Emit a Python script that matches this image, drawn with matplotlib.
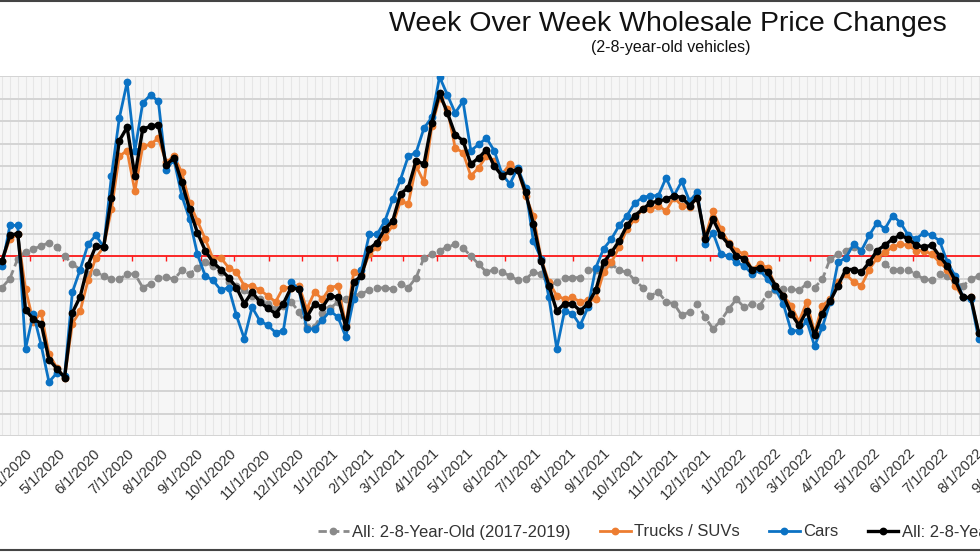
import numpy as np
import pandas as pd
import matplotlib
matplotlib.use("Agg")
import matplotlib.pyplot as plt
import matplotlib.dates as mdates
from matplotlib.lines import Line2D

plt.rcParams['font.family'] = ['Liberation Sans', 'DejaVu Sans']

# weekly dates (126 weeks)
weeks = pd.date_range('2020-03-07', periods=126, freq='7D')
months = pd.date_range('2020-03-01', '2022-09-01', freq='MS')
month_labels = [f"{d.month}/{d.day}/{d.year}" for d in months]

# week over week change, %
avg_2017_2019 = [
    -0.35, -0.25, -0.03, 0.05, 0.08, 0.11, 0.15, 0.10, 0.00, -0.09, -0.15, -0.20, -0.18, -0.22, -0.26, -0.26, -0.20, -0.20, -0.35, -0.31, -0.24, -0.23,
    -0.26, -0.16, -0.20, -0.13, -0.07, -0.11, -0.18, -0.29, -0.33, -0.38, -0.44, -0.48, -0.53, -0.59, -0.55, -0.51, -0.62, -0.79, -0.79, -0.63,
    -0.58, -0.51, -0.48, -0.44, -0.42, -0.38, -0.36, -0.35, -0.37, -0.31, -0.35, -0.24, -0.02, 0.02, 0.06, 0.10, 0.13, 0.09, 0.00, -0.09, -0.18,
    -0.15, -0.18, -0.22, -0.27, -0.26, -0.18, -0.20, -0.33, -0.29, -0.24, -0.24, -0.24, -0.16, -0.15, -0.11, -0.09, -0.16, -0.18, -0.27, -0.35,
    -0.44, -0.40, -0.51, -0.53, -0.66, -0.62, -0.53, -0.68, -0.81, -0.72, -0.59, -0.48, -0.57, -0.53, -0.55, -0.42, -0.38, -0.37, -0.37, -0.38, -0.31,
    -0.35, -0.26, -0.03, 0.02, 0.06, 0.10, 0.06, 0.10, 0.04, -0.09, -0.16, -0.15, -0.16, -0.20, -0.26, -0.27, -0.20, -0.22, -0.29, -0.33, -0.26, -0.22,
]
trucks_suvs = [
    -0.05, 0.19, 0.24, -0.37, -0.73, -0.63, -1.09, -1.24, -1.35, -0.75, -0.61, -0.27, -0.02, 0.10, 0.52, 1.11, 1.17, 0.72, 1.22, 1.24, 1.31, 1.04,
    1.11, 0.93, 0.59, 0.39, 0.19, -0.03, -0.02, -0.13, -0.18, -0.33, -0.33, -0.38, -0.44, -0.51, -0.35, -0.35, -0.33, -0.59, -0.40, -0.48,
    -0.35, -0.33, -0.77, -0.18, -0.20, 0.02, 0.10, 0.21, 0.34, 0.61, 0.58, 1.00, 0.82, 1.44, 1.76, 1.63, 1.20, 1.15, 0.89, 0.98, 1.11,
    1.06, 0.91, 1.02, 0.96, 0.67, 0.45, -0.03, -0.29, -0.44, -0.48, -0.46, -0.51, -0.49, -0.48, -0.18, -0.07, 0.10, 0.30, 0.41, 0.52,
    0.52, 0.56, 0.50, 0.65, 0.56, 0.54, 0.65, 0.21, 0.50, 0.30, 0.15, 0.06, 0.02, -0.15, -0.09, -0.13, -0.33, -0.44, -0.55, -0.73, -0.51,
    -0.85, -0.55, -0.48, -0.29, -0.20, -0.29, -0.33, -0.15, -0.02, 0.04, 0.10, 0.13, 0.12, 0.06, 0.06, 0.02, -0.07, -0.15, -0.33, -0.46, -0.46, -0.85,
]
cars = [
    -0.11, 0.34, 0.34, -1.03, -0.64, -0.99, -1.40, -1.30, -1.33, -0.40, -0.15, 0.13, 0.23, 0.10, 0.89, 1.53, 1.93, 1.17, 1.70, 1.79, 1.72, 0.96,
    1.07, 0.67, 0.41, 0.02, -0.22, -0.27, -0.38, -0.35, -0.66, -0.92, -0.57, -0.72, -0.77, -0.85, -0.83, -0.29, -0.37, -0.81, -0.81, -0.71,
    -0.61, -0.68, -0.90, -0.48, -0.15, 0.24, 0.24, 0.39, 0.63, 0.85, 1.11, 1.15, 1.42, 1.54, 1.99, 1.79, 1.59, 1.72, 1.17, 1.24, 1.31,
    1.17, 0.91, 0.80, 0.98, 0.76, 0.17, -0.03, -0.46, -1.03, -0.61, -0.64, -0.77, -0.57, -0.13, 0.08, 0.19, 0.34, 0.45, 0.59, 0.65,
    0.67, 0.67, 0.87, 0.67, 0.83, 0.61, 0.71, 0.13, 0.26, 0.02, 0.00, -0.07, -0.11, -0.20, -0.16, -0.26, -0.37, -0.53, -0.83, -0.83, -0.72,
    -1.00, -0.79, -0.51, -0.07, -0.02, 0.13, 0.06, 0.23, 0.37, 0.30, 0.45, 0.37, 0.23, 0.19, 0.26, 0.23, 0.17, -0.07, -0.22, -0.46, -0.48, -0.92,
]
all_2_8 = [
    -0.05, 0.23, 0.25, -0.60, -0.70, -0.75, -1.15, -1.25, -1.35, -0.63, -0.45, -0.10, 0.11, 0.10, 0.65, 1.28, 1.43, 0.89, 1.41, 1.44, 1.46, 1.01,
    1.09, 0.82, 0.52, 0.26, 0.06, -0.07, -0.15, -0.24, -0.35, -0.53, -0.40, -0.51, -0.58, -0.64, -0.53, -0.35, -0.37, -0.68, -0.53, -0.57,
    -0.44, -0.46, -0.79, -0.29, -0.22, 0.08, 0.15, 0.30, 0.39, 0.69, 0.76, 1.06, 1.02, 1.48, 1.81, 1.59, 1.35, 1.28, 1.02, 1.09, 1.18,
    1.00, 0.89, 0.94, 0.96, 0.71, 0.36, -0.05, -0.33, -0.61, -0.53, -0.53, -0.61, -0.53, -0.38, -0.07, 0.04, 0.17, 0.34, 0.45, 0.52,
    0.59, 0.61, 0.63, 0.67, 0.65, 0.56, 0.65, 0.19, 0.41, 0.23, 0.13, 0.00, -0.03, -0.15, -0.13, -0.18, -0.33, -0.44, -0.64, -0.77, -0.61,
    -0.88, -0.64, -0.50, -0.33, -0.15, -0.15, -0.18, -0.07, 0.06, 0.12, 0.19, 0.23, 0.19, 0.12, 0.10, 0.12, 0.00, -0.11, -0.27, -0.46, -0.46, -0.85,
]

# the chart is a crop: plot area runs past both figure edges
W, H = 980, 552
ext = 100          # px of plot area hidden on each side
px_day = 1.116     # horizontal scale, px per day
fig = plt.figure(figsize=(W / 100, H / 100), dpi=100)
ax = fig.add_axes([-ext / W, 1 - 436 / H, (W + 2 * ext) / W, 360 / H])
ax.set_facecolor('#f6f6f6')

# grid / ticks
ax.set_yticks(np.arange(-2.0, 2.01, 0.25))
ax.set_xticks(months)
ax.set_xticklabels(month_labels)
ax.set_xticks(weeks, minor=True)
ax.grid(axis='y', which='major', color='#d4d4d4', lw=1.4)
ax.grid(axis='x', which='minor', color='#e6e6e6', lw=0.8)
ax.set_axisbelow(True)
for s in ax.spines.values():
    s.set_visible(False)
ax.tick_params(axis='y', left=False, labelleft=False)
ax.tick_params(axis='x', which='both', length=0, pad=11, labelsize=10.5, labelcolor='#333333')
plt.setp(ax.get_xticklabels(), rotation=45, ha='right', va='center', rotation_mode='anchor')

# zero line with month ticks
ax.axhline(0, color='#ff1a1a', lw=1.3, zorder=1)
ax.vlines(months, -0.06, 0, colors='#ff1a1a', lw=1.0, zorder=1)

ms = 4.6
ax.plot(weeks, avg_2017_2019, color='#8a8a8a', lw=2.0, ls=(0, (3, 1.5)), marker='o', ms=ms,
        label='All: 2-8-Year-Old (2017-2019)', zorder=2)
ax.plot(weeks, trucks_suvs, color='#ed7d31', lw=2.0, marker='o', ms=ms, label='Trucks / SUVs', zorder=3)
ax.plot(weeks, cars, color='#0b72c4', lw=2.0, marker='o', ms=ms, label='Cars', zorder=4)
ax.plot(weeks, all_2_8, color='#000000', lw=2.4, marker='o', ms=ms, label='All: 2-8-Year-Old (2020-2022)', zorder=5)

# limits last (set_xticks would widen them); 4/1/2020 sits at x = 30 px
x0 = mdates.date2num(pd.Timestamp('2020-04-01'))
ax.set_xlim(x0 - (30 + ext) / px_day, x0 + (W - 30 + ext) / px_day)
ax.set_ylim(-2.0, 2.0)

fig.legend(loc='center left', bbox_to_anchor=(318 / W, 1 - 532 / H), ncol=4, frameon=False,
           fontsize=12, handlelength=1.85, handletextpad=0.2, columnspacing=1.75,
           borderpad=0, borderaxespad=0, labelcolor='#333333')

fig.text(668 / W, 1 - 24 / H, 'Week Over Week Wholesale Price Changes', ha='center', va='center',
         fontsize=20.5, color='#111111')
fig.text(671 / W, 1 - 48 / H, '(2-8-year-old vehicles)', ha='center', va='center',
         fontsize=11.5, color='#111111')

# chart border (top and bottom visible in the crop)
fig.add_artist(Line2D([0, 1], [1 - 1 / H, 1 - 1 / H], transform=fig.transFigure, color='#444444', lw=1.5))
fig.add_artist(Line2D([0, 1], [2 / H, 2 / H], transform=fig.transFigure, color='#444444', lw=1.5))

fig.savefig('out.png', dpi=100)
